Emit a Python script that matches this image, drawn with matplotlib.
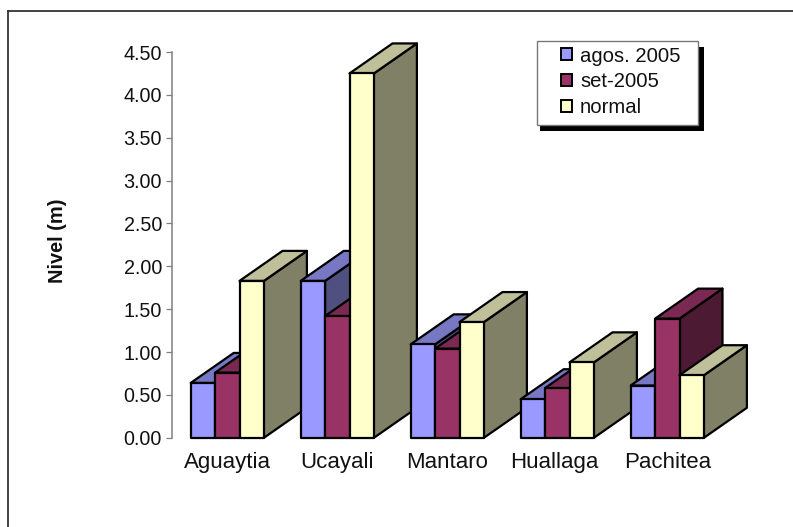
import matplotlib
matplotlib.use("Agg")
import matplotlib.pyplot as plt
from matplotlib.lines import Line2D
from matplotlib.patches import Patch, Polygon, Rectangle
from matplotlib.transforms import IdentityTransform, ScaledTranslation

plt.rcParams['font.family'] = ['Liberation Sans', 'DejaVu Sans']

categories = ["Aguaytia", "Ucayali", "Mantaro", "Huallaga", "Pachitea"]
series_names = ["agos. 2005", "set-2005", "normal"]
agos = [0.64, 1.83, 1.09, 0.45, 0.61]
setiembre = [0.76, 1.42, 1.04, 0.58, 1.39]
normal = [1.83, 4.25, 1.35, 0.88, 0.73]
y_ticks = [0.0, 0.5, 1.0, 1.5, 2.0, 2.5, 3.0, 3.5, 4.0, 4.5]

W, H = 793, 527
front = ["#9999FF", "#993366", "#FFFFCC"]
top = ["#7777C4", "#7A2952", "#BFBF99"]
side = ["#4F4F80", "#4D1A33", "#808066"]

fig = plt.figure(figsize=(W / 100, H / 100), dpi=100, facecolor="white")
L, R, T, B = 172.3, 722.3, 52.0, 437.8
ax = fig.add_axes([L / W, 1 - B / H, (R - L) / W, (B - T) / H])
ax.set_xlim(-0.5, 4.5)
ax.set_ylim(0, 4.5)

bar_w = 24.4 / 110
dx = 43 / 110
dy = 30 / (B - T) * 4.5
lw = 1.6


def bar3d(x0, v, k):
    x1 = x0 + bar_w
    kw = dict(edgecolor="black", linewidth=lw, joinstyle="round", clip_on=False)
    ax.add_patch(Polygon([(x1, 0), (x1 + dx, dy), (x1 + dx, v + dy), (x1, v)], facecolor=side[k], **kw))
    ax.add_patch(Polygon([(x0, v), (x0 + dx, v + dy), (x1 + dx, v + dy), (x1, v)], facecolor=top[k], **kw))
    ax.add_patch(Polygon([(x0, 0), (x1, 0), (x1, v), (x0, v)], facecolor=front[k], **kw))


for i in range(len(categories)):
    for k, vals in enumerate([agos, setiembre, normal]):
        bar3d(i + (k - 1.5) * bar_w, vals[i], k)

for s in ["top", "right", "bottom"]:
    ax.spines[s].set_visible(False)
ax.spines["left"].set_color("#808080")
ax.spines["left"].set_linewidth(1.1)
ax.set_yticks(y_ticks)
ax.set_yticklabels([f"{t:.2f}" for t in y_ticks], fontsize=14.2, color="#111111")
ax.tick_params(axis="y", length=4.4, width=0.9, color="#808080", pad=3)
ax.set_xticks(range(len(categories)))
ax.set_xticklabels(categories, fontsize=16.0, color="#111111")
ax.tick_params(axis="x", length=0, pad=10)
for lab, name in zip(ax.get_xticklabels(), categories):
    if name == "Huallaga":
        lab.set_transform(lab.get_transform() + ScaledTranslation(-3 / 100, 0, fig.dpi_scale_trans))

fig.text(57.5 / W, 1 - 240.5 / H, "Nivel (m)", rotation=90, fontsize=14.4, fontweight="bold",
         ha="center", va="center", color="#111111")

# outer frame: only top and left edges are visible
fig.add_artist(Line2D([8 / W, 8 / W], [0, 1 - 10.5 / H], color="#333333", lw=1.3))
fig.add_artist(Line2D([8 / W, 1], [1 - 10.5 / H, 1 - 10.5 / H], color="#333333", lw=1.3))

# legend box and shadow
it = IdentityTransform()
ax.add_patch(Rectangle((540, H - 131), 164, 84, transform=it, facecolor="black", edgecolor="none",
                       clip_on=False, zorder=18))
ax.add_patch(Rectangle((537, H - 125), 161, 84, transform=it, facecolor="white", edgecolor="#777777",
                       linewidth=1.0, clip_on=False, zorder=19))
handles = [Patch(facecolor=c, edgecolor="black", linewidth=1.4) for c in front]
leg = ax.legend(handles, series_names, loc="upper left",
                bbox_to_anchor=(561 / W, 1 - 46.5 / H), bbox_transform=fig.transFigure,
                frameon=False, fontsize=14.6, borderpad=0, borderaxespad=0,
                handlelength=0.54, handleheight=0.54, handletextpad=0.4, labelspacing=0.34,
                labelcolor="#111111")
leg.set_zorder(20)

fig.savefig("out.png", dpi=100, facecolor="white")
